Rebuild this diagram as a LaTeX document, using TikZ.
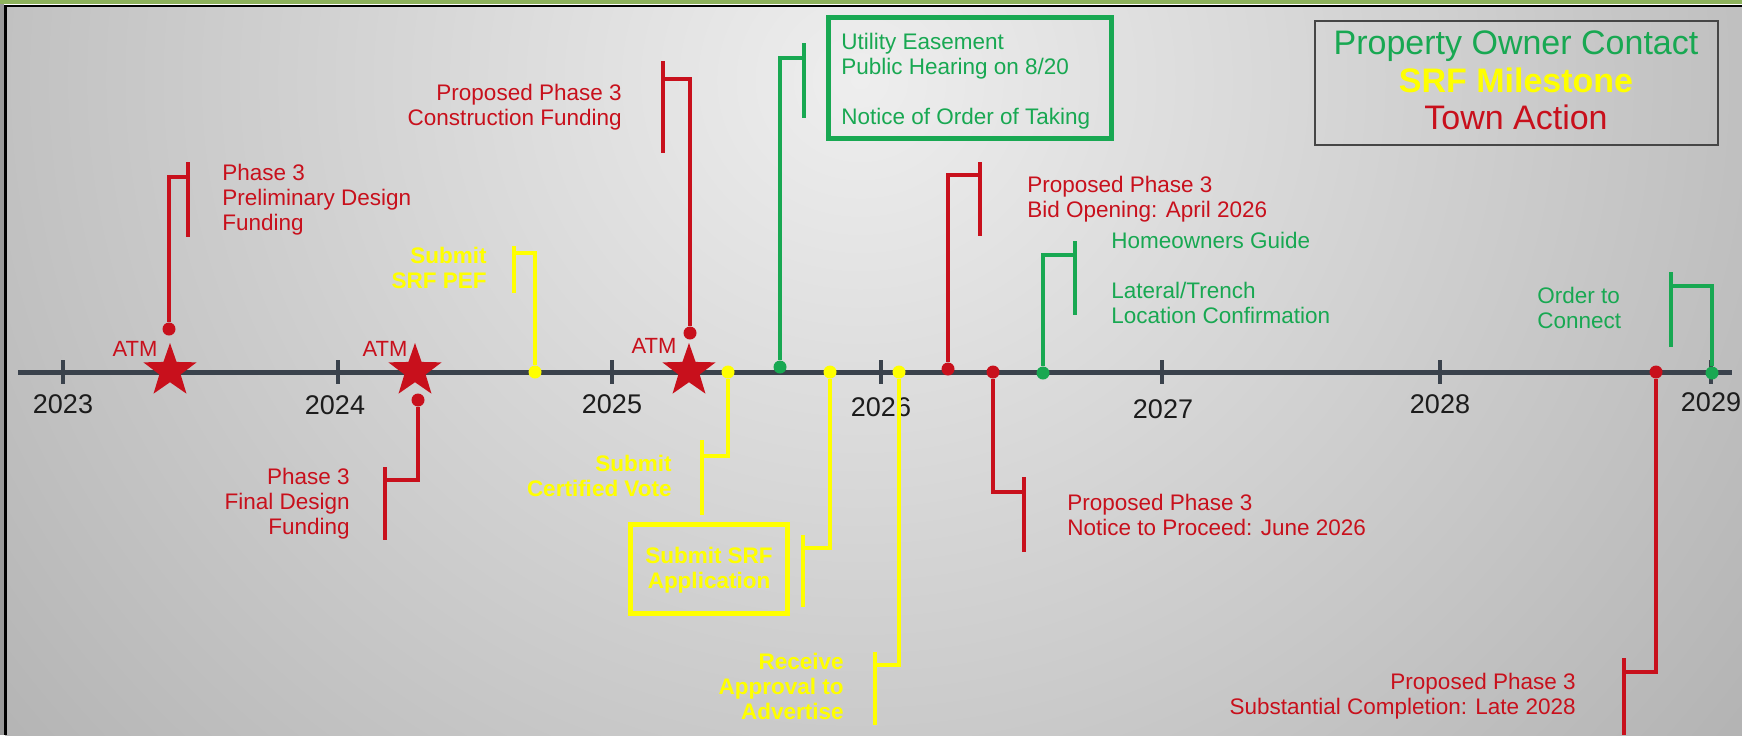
\documentclass[tikz,border=0pt]{standalone}
\usepackage{fontspec}
\setmainfont{Liberation Sans}
\usetikzlibrary{shapes.geometric}
\definecolor{townred}{RGB}{200,16,28}
\definecolor{ownergreen}{RGB}{24,168,82}
\definecolor{srfyellow}{RGB}{255,255,0}
\definecolor{axiscol}{RGB}{58,66,76}
\definecolor{yearcol}{RGB}{28,28,28}
\definecolor{bglight}{RGB}{238,238,238}
\definecolor{bgdark}{RGB}{128,128,128}
\definecolor{framegreen}{RGB}{141,178,92}
\definecolor{legendline}{RGB}{70,70,70}
\definecolor{sidegray}{RGB}{153,153,153}
\begin{document}
\begin{tikzpicture}[x=0.5pt,y=-0.5pt,
  lbl/.style={inner sep=0pt, font=\fontsize{11.25pt}{12.5pt}\selectfont},
  lblL/.style={lbl, anchor=west, align=left},
  lblR/.style={lbl, anchor=east, align=right},
  lblC/.style={lbl, anchor=center, align=center},
  redtxt/.style={text=townred},
  greentxt/.style={text=ownergreen},
  yellowtxt/.style={text=srfyellow, font=\fontsize{11.25pt}{12.5pt}\selectfont\bfseries},
  conn/.style={line width=2pt},
  barline/.style={line width=2pt},
  dotmark/.style={circle, inner sep=0pt, minimum size=6.5pt, draw=none},
  atmstar/.style={star, star points=5, star point ratio=2.5, minimum size=28pt, inner sep=0pt, fill=townred, draw=none},
  atmlbl/.style={inner sep=0pt, font=\fontsize{11pt}{12pt}\selectfont, text=townred},
  yearlbl/.style={inner sep=0pt, font=\fontsize{13.5pt}{15pt}\selectfont, text=yearcol},
  axisline/.style={line width=2.5pt, draw=axiscol},
  tickline/.style={line width=2pt, draw=axiscol},
  boxline/.style={line width=2.5pt, inner sep=0pt}
]
\useasboundingbox (0,0) rectangle (1742,735);
% background
\begin{scope}
  \clip (5,5) rectangle (1742,735);
  \shade[inner color=bglight, outer color=bgdark] (860,80) ellipse [x radius=1050pt, y radius=1000pt];
\end{scope}
% frame
\fill[sidegray] (0,3.5) rectangle (4,735);
\fill[framegreen] (0,0) rectangle (1742,3.5);
\fill[black] (4,4.5) rectangle (1742,7);
\fill[black] (4,4.5) rectangle (6.5,735);

% axis
\coordinate (axL) at (18,372);
\coordinate (axR) at (1732,372);
\draw[axisline] (axL) -- (axR);
\foreach \tx in {63,338,612,881,1162,1440,1711} {
  \draw[tickline] (\tx,360) -- (\tx,384);
}
% year labels
\node[yearlbl] (y2023) at (63,404) {2023};
\node[yearlbl] (y2024) at (335,405) {2024};
\node[yearlbl] (y2025) at (612,404) {2025};
\node[yearlbl] (y2026) at (881,407) {2026};
\node[yearlbl] (y2027) at (1163,409) {2027};
\node[yearlbl] (y2028) at (1440,404) {2028};
\node[yearlbl] (y2029) at (1711,402) {2029};

% ---------- connectors and dots ----------
% 1 Phase 3 Preliminary Design Funding
\node[dotmark, fill=townred] (d1) at (169,329) {};
\coordinate (b1h) at (188,177); \coordinate (b1t) at (188,162); \coordinate (b1b) at (188,237);
\draw[conn, townred] (d1) |- (b1h);
\draw[barline, townred] (b1t) -- (b1b);
\node[lblL, redtxt] (t1) at (222,200) {Phase 3\\Preliminary Design\\Funding};

% 2 Phase 3 Final Design Funding
\node[dotmark, fill=townred] (d2) at (418,400) {};
\coordinate (b2h) at (385,480); \coordinate (b2t) at (385,467); \coordinate (b2b) at (385,540);
\draw[conn, townred] (d2) |- (b2h);
\draw[barline, townred] (b2t) -- (b2b);
\node[lblR, redtxt] (t2) at (350,504) {Phase 3\\Final Design\\Funding};

% 3 Proposed Phase 3 Construction Funding
\node[dotmark, fill=townred] (d3) at (690,333) {};
\coordinate (b3h) at (663,79); \coordinate (b3t) at (663,61); \coordinate (b3b) at (663,153);
\draw[conn, townred] (d3) |- (b3h);
\draw[barline, townred] (b3t) -- (b3b);
\node[lblR, redtxt] (t3) at (622,107.5) {Proposed Phase 3\\Construction Funding};

% 4 Submit SRF PEF
\node[dotmark, fill=srfyellow] (s1) at (535,372) {};
\coordinate (c1h) at (514,253); \coordinate (c1t) at (514,246); \coordinate (c1b) at (514,293);
\draw[conn, srfyellow] (s1) |- (c1h);
\draw[barline, srfyellow] (c1t) -- (c1b);
\node[lblR, yellowtxt] (u1) at (487,268) {Submit\\SRF PEF};

% 5 Submit Certified Vote
\node[dotmark, fill=srfyellow] (s2) at (728,372) {};
\coordinate (c2h) at (702,456); \coordinate (c2t) at (702,440); \coordinate (c2b) at (702,515);
\draw[conn, srfyellow] (s2) |- (c2h);
\draw[barline, srfyellow] (c2t) -- (c2b);
\node[lblR, yellowtxt] (u2) at (672,475.5) {Submit\\Certified Vote};

% 6 Submit SRF Application
\node[dotmark, fill=srfyellow] (s3) at (830,372) {};
\coordinate (c3h) at (803,548); \coordinate (c3t) at (803,535); \coordinate (c3b) at (803,607);
\draw[conn, srfyellow] (s3) |- (c3h);
\draw[barline, srfyellow] (c3t) -- (c3b);
\node[boxline, draw=srfyellow, minimum width=78.5pt, minimum height=44.5pt] (srfbox) at (709,569) {};
\node[lblC, yellowtxt] (u3) at (709,570) {Submit SRF\\Application};

% 7 Receive Approval to Advertise
\node[dotmark, fill=srfyellow] (s4) at (899,372) {};
\coordinate (c4h) at (875,665); \coordinate (c4t) at (875,652); \coordinate (c4b) at (875,725);
\draw[conn, srfyellow] (s4) |- (c4h);
\draw[barline, srfyellow] (c4t) -- (c4b);
\node[lblR, yellowtxt] (u4) at (844,686) {Receive\\Approval to\\Advertise};

% 8 Utility Easement
\node[dotmark, fill=ownergreen] (g1) at (780,367) {};
\coordinate (e1h) at (804,58); \coordinate (e1t) at (804,43); \coordinate (e1b) at (804,118);
\draw[conn, ownergreen] (g1) |- (e1h);
\draw[barline, ownergreen] (e1t) -- (e1b);
\node[boxline, draw=ownergreen, minimum width=141.5pt, minimum height=60.5pt] (easebox) at (970,78) {};
\node[lblL, greentxt] (v1) at (841,81.5) {Utility Easement\\Public Hearing on 8/20\\[12.5pt]Notice of Order of Taking};

% 9 Bid Opening
\node[dotmark, fill=townred] (d4) at (948,369) {};
\coordinate (b4h) at (980,175); \coordinate (b4t) at (980,162); \coordinate (b4b) at (980,236);
\draw[conn, townred] (d4) |- (b4h);
\draw[barline, townred] (b4t) -- (b4b);
\node[lblL, redtxt] (t4) at (1027,199.5) {Proposed Phase 3\\Bid Opening: April 2026};

% 10 Homeowners Guide
\node[dotmark, fill=ownergreen] (g2) at (1043,373) {};
\coordinate (e2h) at (1075,255); \coordinate (e2t) at (1075,241); \coordinate (e2b) at (1075,315);
\draw[conn, ownergreen] (g2) |- (e2h);
\draw[barline, ownergreen] (e2t) -- (e2b);
\node[lblL, greentxt] (v2) at (1111,278) {Homeowners Guide\\[12.5pt]Lateral/Trench\\Location Confirmation};

% 11 Notice to Proceed
\node[dotmark, fill=townred] (d5) at (993,372) {};
\coordinate (b5h) at (1024,492); \coordinate (b5t) at (1024,477); \coordinate (b5b) at (1024,552);
\draw[conn, townred] (d5) |- (b5h);
\draw[barline, townred] (b5t) -- (b5b);
\node[lblL, redtxt] (t5) at (1067,515) {Proposed Phase 3\\Notice to Proceed: June 2026};

% 12 Substantial Completion
\node[dotmark, fill=townred] (d6) at (1656,372) {};
\coordinate (b6h) at (1624,672); \coordinate (b6t) at (1624,658); \coordinate (b6b) at (1624,735);
\draw[conn, townred] (d6) |- (b6h);
\draw[barline, townred] (b6t) -- (b6b);
\node[lblR, redtxt] (t6) at (1576,696.5) {Proposed Phase 3\\Substantial Completion: Late 2028};

% 13 Order to Connect
\node[dotmark, fill=ownergreen] (g3) at (1712,373) {};
\coordinate (e3h) at (1671,286); \coordinate (e3t) at (1671,272); \coordinate (e3b) at (1671,347);
\draw[conn, ownergreen] (g3) |- (e3h);
\draw[barline, ownergreen] (e3t) -- (e3b);
\node[lblL, greentxt] (v3) at (1537,307.5) {Order to\\Connect};

% ATM labels and stars
\node[atmlbl] (atm1) at (135,349) {ATM};
\node[atmlbl] (atm2) at (385,349) {ATM};
\node[atmlbl] (atm3) at (654,346) {ATM};
\node[atmstar] (star1) at (170,371) {};
\node[atmstar] (star2) at (415,371) {};
\node[atmstar] (star3) at (689,371) {};

% legend
\node[draw=legendline, line width=1pt, minimum width=201.5pt, minimum height=62pt, inner sep=0pt] (legend) at (1516.5,83) {};
\node[inner sep=0pt, align=center, font=\fontsize{17pt}{18.75pt}\selectfont] (legendtext) at (1516,80.5)
  {\textcolor{ownergreen}{Property Owner Contact}\\\textcolor{srfyellow}{\bfseries SRF Milestone}\\\textcolor{townred}{Town Action}};
\end{tikzpicture}
\end{document}
